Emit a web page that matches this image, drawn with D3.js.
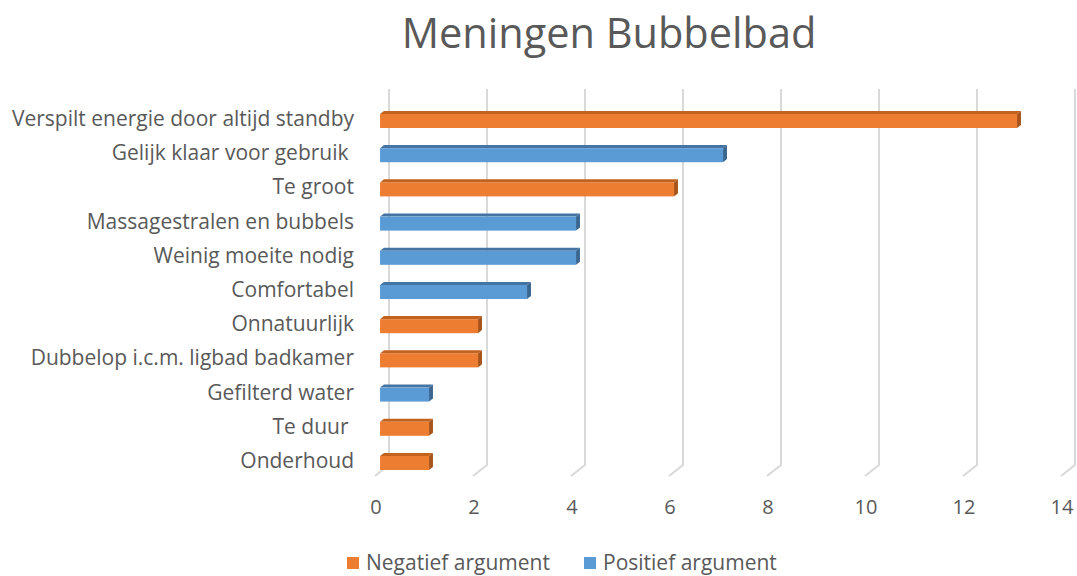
<!DOCTYPE html>
<html>
<head>
<meta charset="utf-8">
<script src="https://cdn.jsdelivr.net/npm/d3@7"></script>
<style>
  body { margin: 0; background: #fff; }
  text { font-family: "Open Sans", sans-serif; fill: #595959; white-space: pre; }
</style>
</head>
<body>
<script>
var width = 1077,
    height = 576;

// data, top to bottom as in the chart
var categories = ["Verspilt energie door altijd standby", "Gelijk klaar voor gebruik ", "Te groot",
                  "Massagestralen en bubbels", "Weinig moeite nodig", "Comfortabel", "Onnatuurlijk",
                  "Dubbelop i.c.m. ligbad badkamer", "Gefilterd water", "Te duur ", "Onderhoud"];
var values = [13, 7, 6, 4, 4, 3, 2, 2, 1, 1, 1];
var kinds = ["neg", "pos", "neg", "pos", "pos", "pos", "neg", "neg", "pos", "neg", "neg"];
var ticks = [0, 2, 4, 6, 8, 10, 12, 14];
var seriesNames = ["Negatief argument", "Positief argument"];

var colors = {
  neg: {front: "#ED7D31", top: "#C2621F", side: "#A7541A"},
  pos: {front: "#5B9BD5", top: "#4374A3", side: "#3A6690"}
};

// floor front edge and depth vector
var x = d3.scaleLinear().domain([0, 14]).range([375, 375 + 14 * 49]);
var y = d3.scalePoint().domain(categories).range([121, 463]);
var depth = {dx: 14, dy: -11},
    wallTop = 89, wallBottom = 465, floorFront = 476,
    zFront = 0.36, zBack = 0.64, barH = 14;

// bar face coordinates: front face at zFront, y given for front face
function px(v, z) { return x(v) + z * depth.dx; }
function py(yy, z) { return yy + (z - zFront) * depth.dy; }

var svg = d3.select("body").append("svg")
    .attr("width", width)
    .attr("height", height);

svg.append("text")
    .attr("x", 609)
    .attr("y", 48)
    .attr("text-anchor", "middle")
    .style("font-size", "41.5px")
    .text("Meningen Bubbelbad");

// back wall gridlines + floor lines
var grid = svg.append("g");
grid.selectAll("path")
    .data(ticks)
  .enter().append("path")
    .attr("d", function(t) {
      return "M" + (x(t) + depth.dx) + "," + wallTop +
             "L" + (x(t) + depth.dx) + "," + wallBottom +
             "L" + x(t) + "," + floorFront;
    })
    .attr("fill", "none")
    .attr("stroke", "#d9d9d9")
    .attr("stroke-width", 2);

svg.append("g").selectAll("text")
    .data(ticks)
  .enter().append("text")
    .attr("x", function(t) { return x(t) + 1; })
    .attr("y", 514)
    .attr("text-anchor", "middle")
    .style("font-size", "20px")
    .text(function(t) { return t; });

// bars
var rows = categories.map(function(c, i) { return {cat: c, value: values[i], kind: kinds[i]}; });

var bars = svg.append("g").selectAll("g")
    .data(rows)
  .enter().append("g");

bars.append("path")
    .attr("fill", function(d) { return colors[d.kind].top; })
    .attr("d", function(d) {
      var t = y(d.cat) - barH / 2;
      return "M" + px(0, zFront) + "," + py(t, zFront) +
             "L" + px(0, zBack) + "," + py(t, zBack) +
             "L" + px(d.value, zBack) + "," + py(t, zBack) +
             "L" + px(d.value, zFront) + "," + py(t, zFront) + "Z";
    });

bars.append("path")
    .attr("fill", function(d) { return colors[d.kind].side; })
    .attr("d", function(d) {
      var t = y(d.cat) - barH / 2, b = y(d.cat) + barH / 2;
      return "M" + px(d.value, zFront) + "," + py(t, zFront) +
             "L" + px(d.value, zBack) + "," + py(t, zBack) +
             "L" + px(d.value, zBack) + "," + py(b, zBack) +
             "L" + px(d.value, zFront) + "," + py(b, zFront) + "Z";
    });

bars.append("rect")
    .attr("fill", function(d) { return colors[d.kind].front; })
    .attr("x", px(0, zFront))
    .attr("y", function(d) { return y(d.cat) - barH / 2; })
    .attr("width", function(d) { return px(d.value, zFront) - px(0, zFront); })
    .attr("height", barH);

// category labels
svg.append("g").selectAll("text")
    .data(categories)
  .enter().append("text")
    .attr("x", 354)
    .attr("y", function(c) { return y(c) + 5; })
    .attr("text-anchor", "end")
    .style("font-size", "21px")
    .text(function(c) { return c; });

// legend
var legend = svg.append("g").selectAll("g")
    .data(seriesNames)
  .enter().append("g")
    .attr("transform", function(d, i) { return "translate(" + [347, 584][i] + ",557)"; });

legend.append("rect")
    .attr("width", 12)
    .attr("height", 12)
    .attr("fill", function(d, i) { return i ? colors.pos.front : colors.neg.front; });

legend.append("text")
    .attr("x", 19)
    .attr("y", 13)
    .style("font-size", "21px")
    .text(function(d) { return d; });
</script>
</body>
</html>
